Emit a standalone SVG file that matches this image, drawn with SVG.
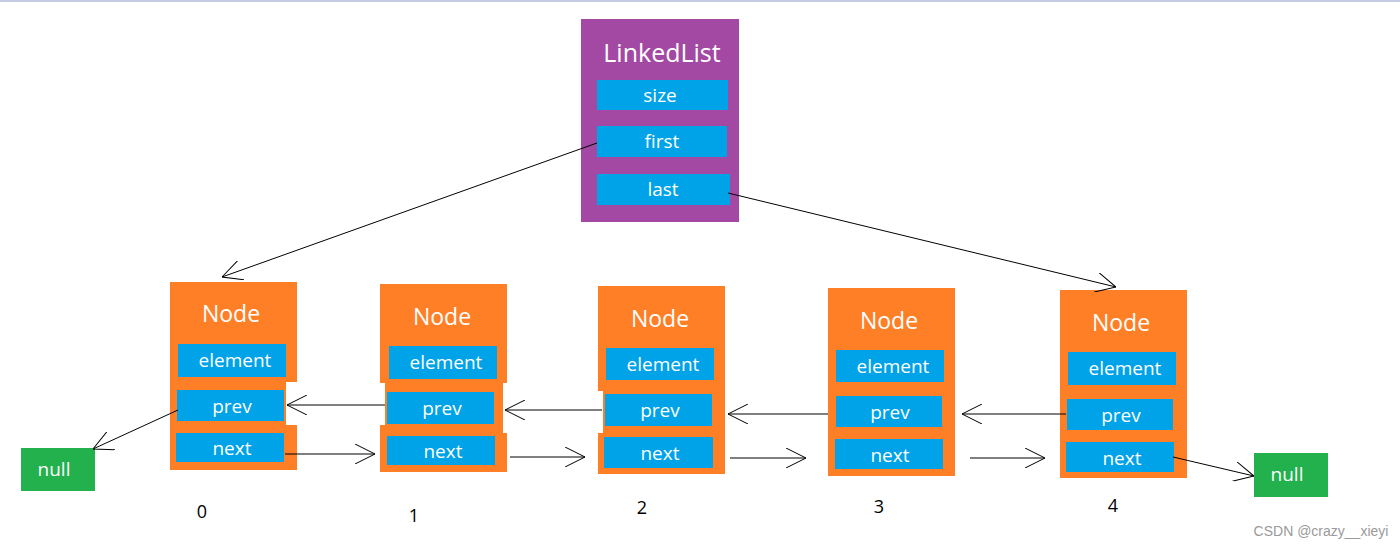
<svg xmlns="http://www.w3.org/2000/svg" width="1400" height="548" viewBox="0 0 1400 548">
<style>
.org{fill:#FF7F27}
.fld{fill:#00A2E8}
.nul{fill:#22B14C}
.t{font-family:"Open Sans","Noto Sans",sans-serif;fill:#fff;text-anchor:middle}
.f{font-size:19px}
.h{font-size:23px}
.idx{font-family:"Open Sans","Noto Sans",sans-serif;font-size:18px;fill:#000;text-anchor:middle}
.c{fill:none;stroke:#000;stroke-width:1}
</style>
<defs>
<marker id="a" viewBox="0 0 20 20" refX="20" refY="10" markerWidth="20" markerHeight="20" markerUnits="userSpaceOnUse" orient="auto">
<path d="M0,0 L20,10 L0,20" fill="none" stroke="#000" stroke-width="1"/>
</marker>
</defs>
<rect x="0" y="0" width="1400" height="548" fill="#fff"/>
<rect x="0" y="0" width="1400" height="2" fill="#C5CBE3"/>
<g id="linkedlist">
<rect x="581" y="19" width="158" height="203" fill="#A349A4"/>
<text class="t" x="662" y="62" font-size="25">LinkedList</text>
<rect class="fld" x="597" y="80" width="131" height="30"/>
<text class="t f" x="660" y="102">size</text>
<rect class="fld" x="597" y="126" width="130" height="31"/>
<text class="t f" x="662" y="148">first</text>
<rect class="fld" x="597" y="174" width="133" height="31"/>
<text class="t f" x="663" y="196">last</text>
</g>
<g id="node0">
<path class="org" d="M170,282 H297 V382 H286 V425 H297 V470 H170 Z"/>
<text class="t h" x="231" y="322">Node</text>
<rect class="fld" x="178" y="344" width="108" height="33"/>
<text class="t f" x="235" y="367">element</text>
<rect class="fld" x="177" y="390" width="107" height="31"/>
<text class="t f" x="232" y="413">prev</text>
<rect class="fld" x="176" y="433" width="108" height="29"/>
<text class="t f" x="232" y="455">next</text>
</g>
<g id="node1">
<path class="org" d="M380,284 H507 V383 H503 V433 H507 V472 H380 V425 H385 V383 H380 Z"/>
<text class="t h" x="442" y="325">Node</text>
<rect class="fld" x="389" y="346" width="108" height="33"/>
<text class="t f" x="446" y="369">element</text>
<rect class="fld" x="387" y="392" width="107" height="32"/>
<text class="t f" x="442" y="415">prev</text>
<rect class="fld" x="387" y="436" width="108" height="29"/>
<text class="t f" x="443" y="458">next</text>
</g>
<g id="node2">
<path class="org" d="M598,286 H725 V474 H598 V433 H603 V391 H598 Z"/>
<text class="t h" x="660" y="327">Node</text>
<rect class="fld" x="606" y="348" width="108" height="32"/>
<text class="t f" x="663" y="371">element</text>
<rect class="fld" x="605" y="394" width="107" height="32"/>
<text class="t f" x="660" y="417">prev</text>
<rect class="fld" x="604" y="437" width="109" height="31"/>
<text class="t f" x="660" y="460">next</text>
</g>
<g id="node3">
<rect class="org" x="828" y="288" width="127" height="188"/>
<text class="t h" x="889" y="329">Node</text>
<rect class="fld" x="836" y="350" width="108" height="32"/>
<text class="t f" x="893" y="373">element</text>
<rect class="fld" x="836" y="396" width="106" height="31"/>
<text class="t f" x="890" y="419">prev</text>
<rect class="fld" x="835" y="439" width="108" height="30"/>
<text class="t f" x="890" y="462">next</text>
</g>
<g id="node4">
<rect class="org" x="1060" y="290" width="127" height="188"/>
<text class="t h" x="1121" y="331">Node</text>
<rect class="fld" x="1068" y="352" width="108" height="33"/>
<text class="t f" x="1125" y="375">element</text>
<rect class="fld" x="1067" y="399" width="106" height="31"/>
<text class="t f" x="1121" y="422">prev</text>
<rect class="fld" x="1066" y="442" width="108" height="30"/>
<text class="t f" x="1122" y="465">next</text>
</g>
<g id="null-left">
<rect class="nul" x="21" y="448" width="74" height="43"/>
<text class="t f" x="54" y="476">null</text>
</g>
<g id="null-right">
<rect class="nul" x="1254" y="453" width="74" height="44"/>
<text class="t f" x="1287" y="481">null</text>
</g>
<g id="labels">
<text class="idx" x="202" y="518">0</text>
<text class="idx" x="414" y="522">1</text>
<text class="idx" x="642" y="514">2</text>
<text class="idx" x="879" y="513">3</text>
<text class="idx" x="1113" y="512">4</text>
<text x="1321" y="536" font-family="'Liberation Sans',Arial,sans-serif" font-size="14" fill="#9a9a9a" text-anchor="middle">CSDN @crazy__xieyi</text>
</g>
<g id="connectors">
<path class="c" marker-end="url(#a)" d="M597,143 L222,277"/>
<path class="c" marker-end="url(#a)" d="M728,193 L1116,287"/>
<path class="c" marker-end="url(#a)" d="M178,410 L93,449"/>
<path class="c" marker-end="url(#a)" d="M385,405 L287,405"/>
<path class="c" marker-end="url(#a)" d="M285,454 L375,454"/>
<path class="c" marker-end="url(#a)" d="M602,410 L505,410"/>
<path class="c" marker-end="url(#a)" d="M510,457 L585,457"/>
<path class="c" marker-end="url(#a)" d="M828,414 L728,414"/>
<path class="c" marker-end="url(#a)" d="M730,458 L806,458"/>
<path class="c" marker-end="url(#a)" d="M1066,414 L962,414"/>
<path class="c" marker-end="url(#a)" d="M970,458 L1045,458"/>
<path class="c" marker-end="url(#a)" d="M1173,457 L1254,476"/>
</g>
</svg>
